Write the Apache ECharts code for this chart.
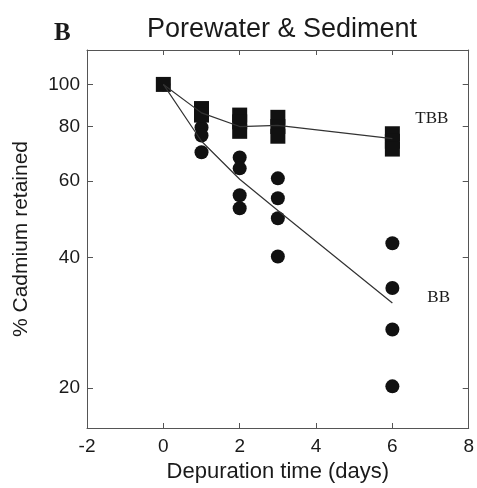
<!DOCTYPE html>
<html>
<head>
<meta charset="utf-8">
<script src="https://cdn.jsdelivr.net/npm/echarts@6/dist/echarts.min.js"></script>
<style>
  html, body { margin: 0; padding: 0; background: #fff; }
  #chart { width: 477px; height: 488px; }
</style>
</head>
<body>
<div id="chart"></div>
<script>
// ---- data ----
var xTicks = [-2, 0, 2, 4, 6, 8];
var yTicks = [20, 40, 60, 80, 100];

// TBB: individual replicates (squares) and mean line
var tbbPoints = [[0, 100], [1, 88], [1, 85], [2, 85], [2, 82], [2, 78], [3, 84], [3, 80], [3, 76], [6, 77], [6, 74], [6, 71]];
var tbbMean = [[0, 100], [1, 86], [2, 80], [3, 80.5], [6, 75]];

// BB: individual replicates (circles) and mean line
var bbPoints = [[0, 100], [1, 79.6], [1, 76.3], [1, 69.8], [2, 67.9], [2, 64.1], [2, 55.6], [2, 51.9],
                [3, 60.8], [3, 54.7], [3, 49.2], [3, 40.2], [6, 43.1], [6, 34], [6, 27.3], [6, 20.2]];
var bbMean = [[0, 100], [1, 74], [2, 60.5], [3, 51.3], [6, 31.4]];

var font = 'Liberation Sans, Arial, sans-serif';
var ink = '#1a1a1a';
var frame = '#555';

var chart = echarts.init(document.getElementById('chart'));

var option = {
    animation: false,
    backgroundColor: '#fff',
    title: {
        text: 'Porewater & Sediment',
        left: 277,
        top: 11,
        textAlign: 'center',
        textStyle: { fontFamily: font, fontSize: 27, fontWeight: 'normal', color: ink }
    },
    graphic: [
        {
            type: 'text', left: 54, top: 21,
            style: { text: 'B', font: 'bold 25px "Liberation Serif", serif', fill: ink }
        }
    ],
    grid: { left: 87, right: 7, top: 50, bottom: 60 },
    xAxis: [
        {
            type: 'value', min: xTicks[0], max: xTicks[xTicks.length - 1], interval: 2,
            name: 'Depuration time (days)', nameLocation: 'middle', nameGap: 27,
            nameTextStyle: { fontFamily: font, fontSize: 22, color: ink },
            axisLine: { onZero: false, lineStyle: { color: frame, width: 1 } },
            axisTick: { inside: true, length: 5, lineStyle: { color: frame } },
            axisLabel: { fontFamily: font, fontSize: 19, color: ink, margin: 9 },
            splitLine: { show: false }
        },
        {
            type: 'value', position: 'top', min: xTicks[0], max: xTicks[xTicks.length - 1], interval: 2,
            axisLine: { onZero: false, lineStyle: { color: frame, width: 1 } },
            axisTick: { inside: true, length: 5, lineStyle: { color: frame } },
            axisLabel: { show: false },
            splitLine: { show: false }
        }
    ],
    yAxis: [
        {
            type: 'log', min: 16.2, max: 120,
            name: '% Cadmium retained', nameLocation: 'middle', nameGap: 55,
            nameTextStyle: { fontFamily: font, fontSize: 21, color: ink },
            axisLine: { onZero: false, lineStyle: { color: frame, width: 1 } },
            axisTick: { inside: true, length: 6, customValues: yTicks, lineStyle: { color: frame } },
            axisLabel: { fontFamily: font, fontSize: 19, color: ink, margin: 7, customValues: yTicks },
            splitLine: { show: false }
        },
        {
            type: 'log', position: 'right', min: 16.2, max: 120,
            axisLine: { onZero: false, lineStyle: { color: frame, width: 1 } },
            axisTick: { inside: true, length: 6, customValues: yTicks, lineStyle: { color: frame } },
            axisLabel: { show: false, customValues: yTicks },
            splitLine: { show: false }
        }
    ],
    series: [
        {
            name: 'TBB line', type: 'line', data: tbbMean, symbol: 'none',
            lineStyle: { color: '#333', width: 1.2 },
            endLabel: {
                show: true, formatter: 'TBB', offset: [15, -20],
                fontFamily: 'Liberation Serif, serif', fontSize: 17, color: ink
            }
        },
        {
            name: 'BB line', type: 'line', data: bbMean, symbol: 'none',
            lineStyle: { color: '#333', width: 1.2 },
            endLabel: {
                show: true, formatter: 'BB', offset: [27, -6],
                fontFamily: 'Liberation Serif, serif', fontSize: 17, color: ink
            }
        },
        {
            name: 'BB', type: 'scatter', data: bbPoints, symbol: 'circle', symbolSize: 14,
            itemStyle: { color: '#111', opacity: 1 }
        },
        {
            name: 'TBB', type: 'scatter', data: tbbPoints, symbol: 'rect', symbolSize: 15,
            itemStyle: { color: '#111', opacity: 1 }
        }
    ]
};

chart.setOption(option);
</script>
</body>
</html>
